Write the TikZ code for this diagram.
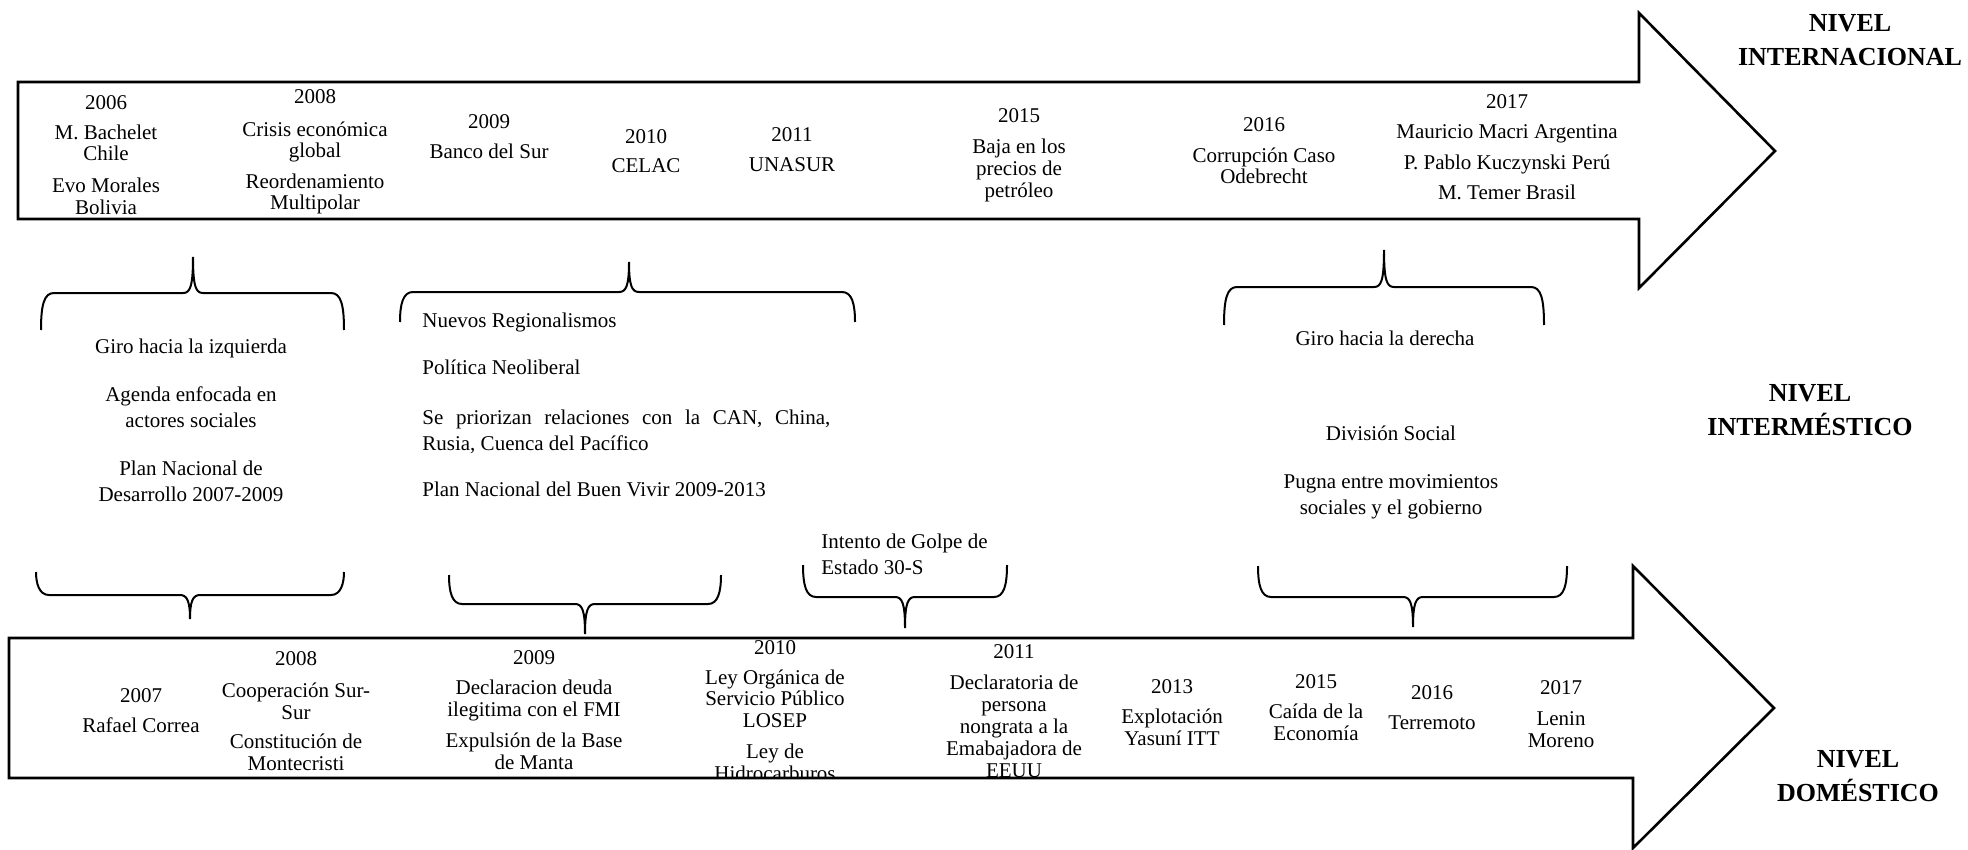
\documentclass[tikz,border=0pt]{standalone}
\usepackage{fontspec}
\setmainfont{Liberation Serif}

% curly braces: left x, tip x, right x, end y, bar y, tip y
\newcommand\bracetipup[6]{%
  \draw[bracepath] (#1,#4) .. controls (#1,#5+12) and (#1+3,#5) .. (#1+13,#5)
    -- (#2-10,#5) .. controls (#2-3,#5) and (#2,#5-6) .. (#2,#6)
    .. controls (#2,#5-6) and (#2+3,#5) .. (#2+10,#5)
    -- (#3-13,#5) .. controls (#3-3,#5) and (#3,#5+12) .. (#3,#4);}
\newcommand\bracetipdown[6]{%
  \draw[bracepath] (#1,#4) .. controls (#1,#5-12) and (#1+3,#5) .. (#1+13,#5)
    -- (#2-10,#5) .. controls (#2-3,#5) and (#2,#5+6) .. (#2,#6)
    .. controls (#2,#5+6) and (#2+3,#5) .. (#2+10,#5)
    -- (#3-13,#5) .. controls (#3-3,#5) and (#3,#5-12) .. (#3,#4);}

\begin{document}
\begin{tikzpicture}[x=0.5pt,y=-0.5pt,
  outline/.style={draw=black, line width=1.3pt, line join=miter},
  bracepath/.style={draw=black, line width=1pt},
  % multi-line nodes are placed by the baseline of their last line
  body/.style={font=\fontsize{10.5}{10.75}\selectfont, align=center, anchor=base, inner sep=0pt},
  mid/.style={font=\fontsize{10.5}{13}\selectfont, align=center, anchor=base, inner sep=0pt},
  midleft/.style={mid, align=left, anchor=base west},
  level/.style={font=\fontsize{13}{17}\selectfont\bfseries, align=center, anchor=base, inner sep=0pt},
]
\useasboundingbox (0,0) rectangle (1968,850);

% ---------- international timeline ----------
\draw[outline] (18,82) -- (1639,82) -- (1639,13) -- (1775,151) -- (1639,288)
  -- (1639,219) -- (18,219) -- cycle;

\node[body] (i06y) at (106,110) {2006};
\node[body] (i06a) at (106,161) {M. Bachelet\\Chile};
\node[body] (i06b) at (106,214) {Evo Morales\\Bolivia};
\node[body] (i08y) at (315,104) {2008};
\node[body] (i08a) at (315,158) {Crisis económica\\global};
\node[body] (i08b) at (315,210) {Reordenamiento\\Multipolar};
\node[body] (i09y) at (489,129) {2009};
\node[body] (i09a) at (489,159) {Banco del Sur};
\node[body] (i10y) at (646,144) {2010};
\node[body] (i10a) at (646,173) {CELAC};
\node[body] (i11y) at (792,142) {2011};
\node[body] (i11a) at (792,172) {UNASUR};
\node[body] (i15y) at (1019,123) {2015};
\node[body,font=\fontsize{10.5}{11}\selectfont] (i15a) at (1019,198) {Baja en los\\precios de\\petróleo};
\node[body] (i16y) at (1264,132) {2016};
\node[body] (i16a) at (1264,184) {Corrupción Caso\\Odebrecht};
\node[body] (i17y) at (1507,109) {2017};
\node[body] (i17a) at (1507,139) {Mauricio Macri Argentina};
\node[body] (i17b) at (1507,170) {P. Pablo Kuczynski Perú};
\node[body] (i17c) at (1507,200) {M. Temer Brasil};

\node[level] (lvInt) at (1850,66) {NIVEL\\INTERNACIONAL};

% ---------- braces of the intermestic level ----------
\bracetipup{41}{193}{344}{330}{293}{257}
\bracetipup{400}{629}{855}{322}{292}{262}
\bracetipup{1224}{1384}{1544}{325}{287}{250}

\bracetipdown{36}{190}{344}{572}{595}{619}
\bracetipdown{449}{585}{721}{575}{604}{634}
\bracetipdown{803}{905}{1007}{565}{597}{628}
\bracetipdown{1258}{1413}{1567}{566}{597}{627}

\node[mid] (m1a) at (191,353) {Giro hacia la izquierda};
\node[mid] (m1b) at (191,427) {Agenda enfocada en\\actores sociales};
\node[mid] (m1c) at (191,501) {Plan Nacional de\\Desarrollo 2007-2009};

\node[midleft] (m2a) at (422,327) {Nuevos Regionalismos};
\node[midleft] (m2b) at (422,374) {Política Neoliberal};
\node[midleft, text width=204pt, align=justify] (m2c) at (422,424)
  {Se priorizan relaciones con la CAN, China,\linebreak Rusia, Cuenca del Pacífico};
\node[midleft] (m2d) at (422,496) {Plan Nacional del Buen Vivir 2009-2013};

\node[midleft] (m3a) at (821,574) {Intento de Golpe de\\Estado 30-S};

\node[mid] (m4a) at (1385,345) {Giro hacia la derecha};
\node[mid] (m4b) at (1391,440) {División Social};
\node[mid] (m4c) at (1391,514) {Pugna entre movimientos\\sociales y el gobierno};

\node[level] (lvMid) at (1810,435) {NIVEL\\INTERMÉSTICO};

% ---------- domestic timeline ----------
\begin{scope}
  \clip (9,638) rectangle (1633,778);
  \node[body] (d07y) at (141,702) {2007};
  \node[body] (d07a) at (141,732) {Rafael Correa};
  \node[body] (d08y) at (296,665) {2008};
  \node[body] (d08a) at (296,719) {Cooperación Sur-\\Sur};
  \node[body] (d08b) at (296,770) {Constitución de\\Montecristi};
  \node[body] (d09y) at (534,664) {2009};
  \node[body] (d09a) at (534,716) {Declaracion deuda\\ilegitima con el FMI};
  \node[body] (d09b) at (534,769) {Expulsión de la Base\\de Manta};
  \node[body] (d10y) at (775,654) {2010};
  \node[body] (d10a) at (775,727) {Ley Orgánica de\\Servicio Público\\LOSEP};
  \node[body] (d10b) at (775,780) {Ley de\\Hidrocarburos};
  \node[body] (d11y) at (1014,658) {2011};
  \node[body,font=\fontsize{10.5}{11}\selectfont] (d11a) at (1014,777)
    {Declaratoria de\\persona\\nongrata a la\\Emabajadora de\\EEUU};
  \node[body] (d13y) at (1172,693) {2013};
  \node[body] (d13a) at (1172,745) {Explotación\\Yasuní ITT};
  \node[body] (d15y) at (1316,688) {2015};
  \node[body] (d15a) at (1316,740) {Caída de la\\Economía};
  \node[body] (d16y) at (1432,699) {2016};
  \node[body] (d16a) at (1432,729) {Terremoto};
  \node[body] (d17y) at (1561,694) {2017};
  \node[body,font=\fontsize{10.5}{11}\selectfont] (d17a) at (1561,747) {Lenin\\Moreno};
\end{scope}

\draw[outline] (9,638) -- (1633,638) -- (1633,566) -- (1774,708) -- (1633,848)
  -- (1633,778) -- (9,778) -- cycle;

\node[level] (lvDom) at (1858,801) {NIVEL\\DOMÉSTICO};
\end{tikzpicture}
\end{document}
